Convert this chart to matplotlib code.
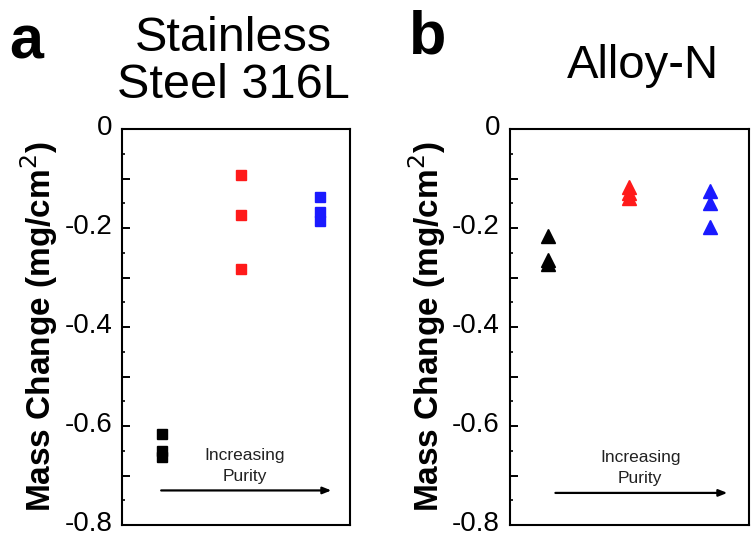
import matplotlib
matplotlib.use("Agg")
import matplotlib.pyplot as plt
import matplotlib.transforms as mtransforms
from matplotlib.ticker import MultipleLocator, FixedLocator

plt.rcParams['font.family'] = ['Liberation Sans', 'DejaVu Sans']

# purity groups: low, mid, high
groups = [1, 2, 3]
colors = ['black', '#ff1a1a', '#1a1aff']

# mass change (mg/cm2) for stainless steel 316L
ss_low = [-0.615, -0.650, -0.662]
ss_mid = [-0.093, -0.174, -0.282]
ss_high = [-0.138, -0.168, -0.185]

# mass change (mg/cm2) for Alloy-N
an_low = [-0.215, -0.265, -0.273]
an_mid = [-0.116, -0.130, -0.140]
an_high = [-0.125, -0.150, -0.198]

major_ticks = [0, -0.1, -0.2, -0.3, -0.4, -0.5, -0.6, -0.7, -0.8]
tick_labels = ['0', '', '-0.2', '', '-0.4', '', '-0.6', '', '-0.8']

fig = plt.figure(figsize=(7.54, 5.38), dpi=100)
ax_a = fig.add_axes([0.162, 0.024, 0.302, 0.736])
ax_b = fig.add_axes([0.676, 0.024, 0.317, 0.736])


def style_axis(ax, xlim):
    ax.set_xlim(*xlim)
    ax.set_ylim(-0.8, 0)
    ax.set_xticks([])
    ax.yaxis.set_major_locator(FixedLocator(major_ticks))
    ax.yaxis.set_minor_locator(MultipleLocator(0.05))
    ax.set_yticklabels(tick_labels)
    ax.tick_params(axis='y', which='major', direction='in', length=6, width=1.4,
                   labelsize=20, pad=7)
    ax.tick_params(axis='y', which='minor', direction='in', length=2.5, width=1.2)
    # lift the tick labels a little, like the original
    shift = mtransforms.ScaledTranslation(0, 3 / 72, fig.dpi_scale_trans)
    for lbl in ax.get_yticklabels():
        lbl.set_transform(lbl.get_transform() + shift)
    for s in ax.spines.values():
        s.set_linewidth(1.5)
    ax.set_ylabel('Mass Change (mg/cm$^2$)', fontsize=24, fontweight='bold', labelpad=3)


# panel a
for g, vals, c in zip(groups, [ss_low, ss_mid, ss_high], colors):
    ax_a.plot([g] * len(vals), vals, 's', color=c, markersize=7.5, linestyle='none')
style_axis(ax_a, (0.49, 3.38))
ax_a.annotate('', xy=(3.18, -0.73), xytext=(0.95, -0.73),
              arrowprops=dict(arrowstyle='-|>,head_length=0.5,head_width=0.2', color='black', lw=1.6))
ax_a.text(2.05, -0.68, 'Increasing\nPurity', ha='center', va='center', fontsize=12.5,
          linespacing=1.5, color='#222222')

# panel b
for g, vals, c in zip(groups, [an_low, an_mid, an_high], colors):
    ax_b.plot([g] * len(vals), vals, '^', color=c, markersize=9.5, linestyle='none')
style_axis(ax_b, (0.53, 3.48))
ax_b.annotate('', xy=(3.25, -0.735), xytext=(1.06, -0.735),
              arrowprops=dict(arrowstyle='-|>,head_length=0.5,head_width=0.2', color='black', lw=1.6))
ax_b.text(2.14, -0.685, 'Increasing\nPurity', ha='center', va='center', fontsize=12.5,
          linespacing=1.5, color='#222222')

# titles and panel letters
fig.text(0.31, 0.885, 'Stainless\nSteel 316L', ha='center', va='center', fontsize=35,
         linespacing=1.05)
fig.text(0.853, 0.878, 'Alloy-N', ha='center', va='center', fontsize=34)
fig.text(0.035, 0.92, 'a', ha='center', va='center', fontsize=44, fontweight='bold')
fig.text(0.567, 0.93, 'b', ha='center', va='center', fontsize=44, fontweight='bold')

fig.savefig('out.png', dpi=100)
